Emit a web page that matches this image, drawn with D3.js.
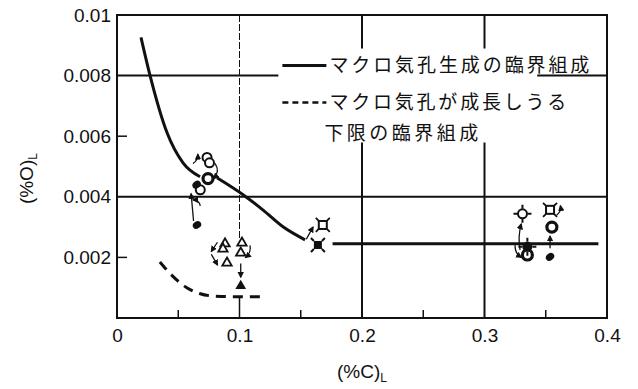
<!DOCTYPE html>
<html>
<head>
<meta charset="utf-8">
<script src="https://cdn.jsdelivr.net/npm/d3@7"></script>
<style>
  html, body { margin: 0; padding: 0; background: #fff; }
  svg { display: block; }
  .num { font-family: "Liberation Sans", Arial, sans-serif; font-size: 19px; fill: #111; }
  .jp { font-family: "Noto Sans CJK JP", sans-serif; font-size: 19px; fill: #111; }
</style>
</head>
<body>
<svg id="chart" width="638" height="389"></svg>
<script>
// Axis ticks
const xTicks = [0, 0.1, 0.2, 0.3, 0.4];
const xMinorTicks = [0.05, 0.15, 0.25, 0.35];
const yTicks = [0.002, 0.004, 0.006, 0.008, 0.01];
const xGrid = [0.2, 0.3];
const yGrid = [0.004, 0.008];

// Critical composition for macro-pore formation (solid curve, gap where markers sit)
const formationCurve = [
  [0.0196, 0.00926], [0.027, 0.0080], [0.0408, 0.00612], [0.0539, 0.00512], [0.0678, 0.00466],
  null,
  [0.0816, 0.00463], [0.1029, 0.00407], [0.119, 0.00357], [0.1355, 0.00301], [0.1535, 0.00258]
];
const formationPlateau = [[0.176, 0.00245], [0.393, 0.00245]];

// Lower critical composition for macro-pore growth (dashed curve)
const growthCurve = [
  [0.035, 0.00185], [0.045, 0.0014], [0.057, 0.0010], [0.068, 0.0008],
  [0.08, 0.00072], [0.1, 0.0007], [0.121, 0.0007]
];

// Measured points, by symbol
const openCircles = [[0.0735, 0.0053], [0.0755, 0.00512], [0.068, 0.00423]];
const boldOpenCircles = [[0.0743, 0.0046], [0.335, 0.00208], [0.355, 0.0030]];
const filledCircles = [[0.065, 0.0044], [0.0653, 0.00307], [0.3535, 0.00202]];
const openTriangles = [[0.0882, 0.00245], [0.0865, 0.00228], [0.0898, 0.00182], [0.102, 0.00248], [0.101, 0.00215]];
const filledTriangles = [[0.101, 0.00106]];
const openSquares = [[0.168, 0.00307], [0.3535, 0.00357]];
const filledSquares = [[0.164, 0.00241]];
const openCrossCircles = [[0.331, 0.00344]];
const filledCrossCircles = [[0.335, 0.00235]];

// Small arrows showing how points move
const arrows = [
  { from: [0.0625, 0.0032], to: [0.0605, 0.0041], bend: 0 },
  { from: [0.068, 0.0037], to: [0.062, 0.0039], bend: 4 },
  { from: [0.08, 0.0051], to: [0.079, 0.0046], bend: -6 },
  { from: [0.062, 0.0051], to: [0.066, 0.0054], bend: 3 },
  { from: [0.082, 0.0025], to: [0.077, 0.0022], bend: 0 },
  { from: [0.077, 0.0021], to: [0.082, 0.00175], bend: 0 },
  { from: [0.1085, 0.0024], to: [0.105, 0.0020], bend: -4 },
  { from: [0.101, 0.0018], to: [0.101, 0.00135], bend: 0 },
  { from: [0.1545, 0.0026], to: [0.16, 0.0030], bend: 0 },
  { from: [0.329, 0.00225], to: [0.33, 0.0031], bend: -3 },
  { from: [0.325, 0.0024], to: [0.33, 0.0020], bend: 4 },
  { from: [0.3535, 0.0023], to: [0.3535, 0.0027], bend: 0 },
  { from: [0.359, 0.0034], to: [0.362, 0.0037], bend: 3 }
];

const legendItems = [
  { label: "マクロ気孔生成の臨界組成", dash: null, width: 260 },
  { label: "マクロ気孔が成長しうる", dash: "6,4", width: 237, second: "下限の臨界組成", secondWidth: 154 }
];

const svg = d3.select("#chart");
const x = d3.scaleLinear().domain([0, 0.4]).range([117, 607]);
const y = d3.scaleLinear().domain([0, 0.01]).range([318, 15]);
const ink = "#111";

// Grid lines
svg.append("g").selectAll("line").data(yGrid).join("line")
  .attr("x1", x(0)).attr("x2", x(0.4))
  .attr("y1", d => y(d)).attr("y2", d => y(d))
  .attr("stroke", ink).attr("stroke-width", 2);
svg.append("g").selectAll("line").data(xGrid).join("line")
  .attr("x1", d => x(d)).attr("x2", d => x(d))
  .attr("y1", y(0)).attr("y2", y(0.01))
  .attr("stroke", ink).attr("stroke-width", 2);
// Thin reference line at 0.1
svg.append("line")
  .attr("x1", x(0.1)).attr("x2", x(0.1)).attr("y1", y(0.01)).attr("y2", y(0.0026))
  .attr("stroke", ink).attr("stroke-width", 1).attr("stroke-dasharray", "7,2");
svg.append("line")
  .attr("x1", x(0.1)).attr("x2", x(0.1)).attr("y1", y(0)).attr("y2", y(0.0007))
  .attr("stroke", ink).attr("stroke-width", 1.5);

// Legend background breaks the grid behind it
const legendX = x(0.135), legendY = y(0.0083);
svg.append("rect")
  .attr("x", legendX - 4).attr("y", legendY - 18)
  .attr("width", x(0.343) - legendX + 4).attr("height", 94)
  .attr("fill", "#fff");

// Plot frame
svg.append("rect")
  .attr("x", x(0)).attr("y", y(0.01))
  .attr("width", x(0.4) - x(0)).attr("height", y(0) - y(0.01))
  .attr("fill", "none").attr("stroke", ink).attr("stroke-width", 2);

// Axes with inward ticks
const xAxis = d3.axisBottom(x).tickValues(xTicks).tickSize(0).tickPadding(7)
  .tickFormat(d => d === 0 ? "0" : d3.format(".1f")(d));
svg.append("g").attr("transform", `translate(0,${y(0)})`).call(xAxis)
  .call(g => g.select(".domain").remove())
  .call(g => g.selectAll("text").attr("class", "num").attr("font-size", null).attr("font-family", null).attr("dy", "0.9em"));
svg.append("g").selectAll("line").data(xMinorTicks).join("line")
  .attr("x1", d => x(d)).attr("x2", d => x(d))
  .attr("y1", y(0)).attr("y2", y(0) - 8)
  .attr("stroke", ink).attr("stroke-width", 1.5);

const yAxis = d3.axisLeft(y).tickValues(yTicks).tickSize(0).tickPadding(6)
  .tickFormat(d => d === 0.01 ? "0.01" : d3.format(".3f")(d));
svg.append("g").attr("transform", `translate(${x(0)},0)`).call(yAxis)
  .call(g => g.select(".domain").remove())
  .call(g => g.selectAll("text").attr("class", "num").attr("font-size", null).attr("font-family", null));
svg.append("g").selectAll("line").data([0.002, 0.006]).join("line")
  .attr("x1", x(0)).attr("x2", x(0) + 10)
  .attr("y1", d => y(d)).attr("y2", d => y(d))
  .attr("stroke", ink).attr("stroke-width", 1.5);

// Axis titles
const xTitle = svg.append("text").attr("class", "num")
  .attr("x", x(0.2)).attr("y", 378).attr("text-anchor", "middle");
xTitle.append("tspan").text("(%C)");
xTitle.append("tspan").attr("font-size", 12).attr("dy", 4).text("L");
const yTitle = svg.append("text").attr("class", "num")
  .attr("transform", `translate(33,${y(0.0046)}) rotate(-90)`).attr("text-anchor", "middle");
yTitle.append("tspan").text("(%O)");
yTitle.append("tspan").attr("font-size", 12).attr("dy", 4).text("L");

// Curves
const line = d3.line().defined(d => d !== null)
  .x(d => x(d[0])).y(d => y(d[1])).curve(d3.curveMonotoneX);
svg.append("path").attr("d", line(formationCurve))
  .attr("fill", "none").attr("stroke", ink).attr("stroke-width", 3);
svg.append("path").attr("d", line(formationPlateau))
  .attr("fill", "none").attr("stroke", ink).attr("stroke-width", 3);
svg.append("path").attr("d", line(growthCurve))
  .attr("fill", "none").attr("stroke", ink).attr("stroke-width", 3)
  .attr("stroke-dasharray", "10,7");

// Arrowhead
svg.append("defs").append("marker")
  .attr("id", "head").attr("viewBox", "0 0 10 10")
  .attr("refX", 8).attr("refY", 5).attr("markerWidth", 5).attr("markerHeight", 5)
  .attr("orient", "auto")
  .append("path").attr("d", "M0,0 L10,5 L0,10 Z").attr("fill", ink);

svg.append("g").selectAll("path").data(arrows).join("path")
  .attr("d", d => {
    const x1 = x(d.from[0]), y1 = y(d.from[1]), x2 = x(d.to[0]), y2 = y(d.to[1]);
    const mx = (x1 + x2) / 2, my = (y1 + y2) / 2;
    const len = Math.hypot(x2 - x1, y2 - y1) || 1;
    const cx = mx - (y2 - y1) / len * d.bend, cy = my + (x2 - x1) / len * d.bend;
    return `M${x1},${y1} Q${cx},${cy} ${x2},${y2}`;
  })
  .attr("fill", "none").attr("stroke", ink).attr("stroke-width", 1.3)
  .attr("marker-end", "url(#head)");

// Symbols
const pts = svg.append("g");
pts.selectAll(".oc").data(openCircles).join("circle")
  .attr("cx", d => x(d[0])).attr("cy", d => y(d[1])).attr("r", 4.5)
  .attr("fill", "#fff").attr("stroke", ink).attr("stroke-width", 2);
pts.selectAll(".boc").data(boldOpenCircles).join("circle")
  .attr("cx", d => x(d[0])).attr("cy", d => y(d[1])).attr("r", 5)
  .attr("fill", "#fff").attr("stroke", ink).attr("stroke-width", 3.2);
pts.selectAll(".fc").data(filledCircles).join("ellipse")
  .attr("cx", d => x(d[0])).attr("cy", d => y(d[1])).attr("rx", 4.5).attr("ry", 3.5)
  .attr("transform", d => `rotate(-35,${x(d[0])},${y(d[1])})`)
  .attr("fill", ink);

const tri = d3.symbol().type(d3.symbolTriangle).size(38);
pts.selectAll(".ot").data(openTriangles).join("path")
  .attr("d", tri).attr("transform", d => `translate(${x(d[0])},${y(d[1])})`)
  .attr("fill", "#fff").attr("stroke", ink).attr("stroke-width", 1.8);
pts.selectAll(".ft").data(filledTriangles).join("path")
  .attr("d", d3.symbol().type(d3.symbolTriangle).size(50))
  .attr("transform", d => `translate(${x(d[0])},${y(d[1])})`)
  .attr("fill", ink);

// Squares with spiked corners
const spikes = "M-4,-4 L-7,-7 M4,-4 L7,-7 M-4,4 L-7,7 M4,4 L7,7";
const os = pts.selectAll(".os").data(openSquares).join("g")
  .attr("transform", d => `translate(${x(d[0])},${y(d[1])})`);
os.append("rect").attr("x", -4).attr("y", -4).attr("width", 8).attr("height", 8)
  .attr("fill", "#fff").attr("stroke", ink).attr("stroke-width", 2);
os.append("path").attr("d", spikes).attr("stroke", ink).attr("stroke-width", 1.8);
const fs = pts.selectAll(".fs").data(filledSquares).join("g")
  .attr("transform", d => `translate(${x(d[0])},${y(d[1])})`);
fs.append("rect").attr("x", -4).attr("y", -4).attr("width", 8).attr("height", 8).attr("fill", ink);
fs.append("path").attr("d", spikes).attr("stroke", ink).attr("stroke-width", 2);

// Circles with crosshair ticks
const cross = "M0,-5 L0,-9 M0,5 L0,9 M-5,0 L-9,0 M5,0 L9,0";
const occ = pts.selectAll(".occ").data(openCrossCircles).join("g")
  .attr("transform", d => `translate(${x(d[0])},${y(d[1])})`);
occ.append("circle").attr("r", 4.5).attr("fill", "#fff").attr("stroke", ink).attr("stroke-width", 2);
occ.append("path").attr("d", cross).attr("stroke", ink).attr("stroke-width", 2);
const fcc = pts.selectAll(".fcc").data(filledCrossCircles).join("g")
  .attr("transform", d => `translate(${x(d[0])},${y(d[1])})`);
fcc.append("circle").attr("r", 5).attr("fill", ink);
fcc.append("path").attr("d", cross).attr("stroke", ink).attr("stroke-width", 2);

// Legend
const lg = svg.append("g");
legendItems.forEach((item, i) => {
  const ly = legendY - 1 + i * 37;
  lg.append("line")
    .attr("x1", legendX).attr("x2", legendX + 44).attr("y1", ly).attr("y2", ly)
    .attr("stroke", ink).attr("stroke-width", item.dash ? 2.5 : 3)
    .attr("stroke-dasharray", item.dash);
  lg.append("text").attr("class", "jp")
    .attr("x", legendX + 47).attr("y", ly).attr("dy", "0.36em")
    .attr("textLength", item.width).attr("lengthAdjust", "spacing")
    .text(item.label);
  if (item.second) {
    lg.append("text").attr("class", "jp")
      .attr("x", legendX + 42).attr("y", ly + 31).attr("dy", "0.36em")
      .attr("textLength", item.secondWidth).attr("lengthAdjust", "spacing")
      .text(item.second);
  }
});
</script>
</body>
</html>
